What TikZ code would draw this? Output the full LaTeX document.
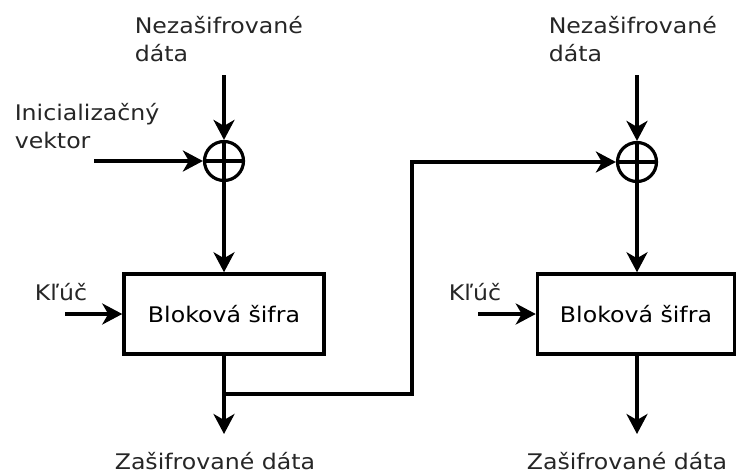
\documentclass[tikz,border=0pt]{standalone}
\usepackage{fontspec}
\setmainfont{DejaVu Sans}[FakeStretch=1.1]
\usetikzlibrary{arrows.meta}
\newcommand\dfont{\fontsize{21.5pt}{28pt}\selectfont}
\begin{document}
\begin{tikzpicture}[x=1pt,y=-1pt,
  line width=3.5pt,
  arr/.style={-{Stealth[length=20pt,width=21pt,inset=6pt]}},
  xor/.style={circle,draw,line width=3.2pt,minimum size=39pt,inner sep=0pt,
    path picture={\draw[line width=3.2pt]
      (path picture bounding box.north) -- (path picture bounding box.south)
      (path picture bounding box.west) -- (path picture bounding box.east);}},
  blk/.style={draw,minimum height=80pt,inner sep=0pt,font=\dfont},
  lbl/.style={font=\dfont,inner sep=0pt,align=left,text=black!85},
]
\useasboundingbox (0,0) rectangle (736,474);

% left stage
\node[xor] (x1) at (224,161) {};
\node[blk,minimum width=200pt] (b1) at (224,314) {Bloková šifra};
\coordinate (in1) at (224,75);
\coordinate (iv) at (94,161);
\coordinate (k1) at (65,314);
\coordinate (o1) at (224,434);
\coordinate (j1) at (224,394);
\coordinate (bend) at (412,394);

\node[lbl,anchor=base west] (n1) at (133,61) {Nezašifrované\\dáta};
\node[lbl,anchor=base west] (ivl) at (13,148) {Inicializačný\\vektor};
\node[lbl,anchor=base west] (kl1) at (33,300) {Kľúč};
\node[lbl,anchor=base] (z1) at (215,469) {Zašifrované dáta};

% right stage
\node[xor] (x2) at (637,162) {};
\node[blk,minimum width=197pt] (b2) at (636,314) {Bloková šifra};
\coordinate (in2) at (637,75);
\coordinate (k2) at (478,314);
\coordinate (o2) at (637,434);

\node[lbl,anchor=base west] (n2) at (547,61) {Nezašifrované\\dáta};
\node[lbl,anchor=base west] (kl2) at (447,300) {Kľúč};
\node[lbl,anchor=base] (z2) at (627,469) {Zašifrované dáta};

% connectors
\draw[arr] (in1) -- (x1.north);
\draw[arr] (iv) -- (x1.west);
\draw[arr] (x1.south) -- (b1.north);
\draw[arr] (k1) -- (b1.west);
\draw[arr] (b1.south) -- (o1);
\draw[arr] (j1) -- (bend) |- (x2.west);

\draw[arr] (in2) -- (x2.north);
\draw[arr] (x2.south) -- (x2.south |- b2.north);
\draw[arr] (k2) -- (b2.west);
\draw[arr] (x2.south |- b2.south) -- (o2);
\end{tikzpicture}
\end{document}
